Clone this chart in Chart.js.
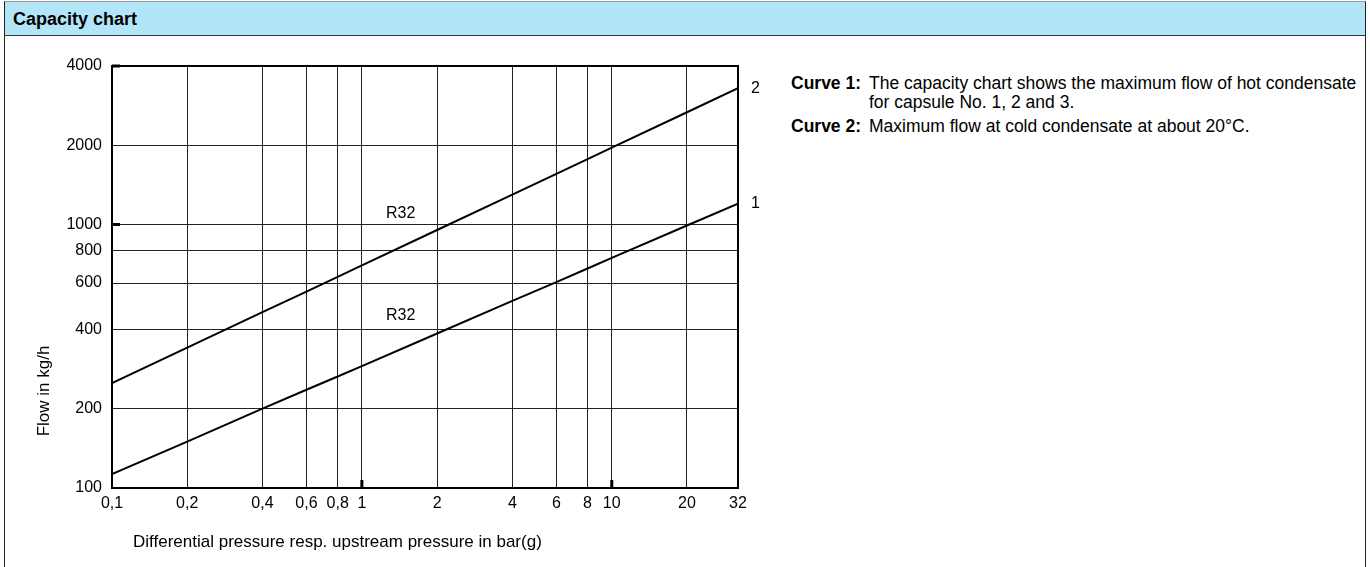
<!DOCTYPE html>
<html lang="en">
<head>
  <meta charset="UTF-8" />
  <title>Capacity chart</title>
  <style>
    html, body {
      margin: 0;
      padding: 0;
      background: #fff;
      overflow: hidden;
      font-family: "Liberation Sans", Arial, sans-serif;
    }
    #frame {
      position: absolute;
      left: 4px;
      top: 1px;
      width: 1360px;
      height: 565px;
      border-left: 1px solid #222;
      border-right: 1px solid #222;
      border-top: 1px solid #999;
    }
    #header {
      height: 33px;
      background: #b3e5f8;
      border-bottom: 1px solid #333;
    }
    #header h1 {
      margin: 0;
      padding: 2px 0 0 8px;
      font-size: 18px;
      font-weight: bold;
      line-height: 31px;
      color: #000;
    }
    #chartBox {
      position: absolute;
      left: 0;
      top: 36px;
      width: 780px;
      height: 531px;
    }
    #notes {
      position: absolute;
      left: 791px;
      top: 74px;
      font-size: 17.5px;
      line-height: 19px;
      color: #000;
    }
    #notes .row {
      display: flex;
      margin-bottom: 5px;
    }
    #notes b {
      flex: none;
      width: 78px;
    }
  </style>
</head>
<body>
  <div id="frame">
    <div id="header"><h1>Capacity chart</h1></div>
  </div>
  <div id="chartBox"><canvas id="capacityChart"></canvas></div>
  <div id="notes">
    <div class="row"><b>Curve 1:</b><span>The capacity chart shows the maximum flow of hot condensate<br>for capsule No. 1, 2 and 3.</span></div>
    <div class="row"><b>Curve 2:</b><span>Maximum flow at cold condensate at about 20°C.</span></div>
  </div>

  <script src="https://cdn.jsdelivr.net/npm/chart.js"></script>
  <script>
    // values
    const pressure = [0.1, 0.2, 0.4, 0.6, 0.8, 1, 2, 4, 6, 8, 10, 20, 32];
    const curve1 = [113, 150, 200, 236, 265, 290, 386, 513, 605, 681, 747, 992, 1201];
    const curve2 = [250, 341, 465, 557, 633, 700, 954, 1300, 1559, 1773, 1959, 2670, 3294];
    const xTicks = [0.1, 0.2, 0.4, 0.6, 0.8, 1, 2, 4, 6, 8, 10, 20, 32];
    const yTicks = [100, 200, 400, 600, 800, 1000, 2000, 4000];
    const xDecades = [1, 10];
    const yDecades = [1000, 4000];
    const curveNames = ['1', '2'];
    const curveTags = ['R32', 'R32'];
    const tagPressure = 1.43;

    const font = '"Liberation Sans", Arial, sans-serif';

    const toPoints = (ys) => pressure.map((x, i) => ({ x: x, y: ys[i] }));

    // frame, axis titles and curve labels
    const decorations = {
      id: 'decorations',
      afterDraw(chart) {
        const { ctx, chartArea: a, scales } = chart;
        const xs = scales.x, ys = scales.y;
        ctx.save();
        ctx.strokeStyle = '#000';
        ctx.lineWidth = 2;
        ctx.strokeRect(a.left, a.top, a.right - a.left, a.bottom - a.top);

        // short heavy marks inside the frame
        ctx.lineWidth = 3;
        ctx.beginPath();
        xDecades.forEach(v => {
          const px = xs.getPixelForValue(v);
          ctx.moveTo(px, a.bottom);
          ctx.lineTo(px, a.bottom - 8);
        });
        yDecades.forEach(v => {
          const py = ys.getPixelForValue(v);
          ctx.moveTo(a.left, py);
          ctx.lineTo(a.left + 8, py);
        });
        ctx.stroke();

        ctx.fillStyle = '#000';
        ctx.font = '17px ' + font;
        ctx.textBaseline = 'middle';

        // x title
        ctx.textAlign = 'left';
        ctx.fillText('Differential pressure resp. upstream pressure in bar(g)', a.left + 21, a.bottom + 54);

        // y title
        ctx.save();
        ctx.translate(a.left - 68, a.bottom - 97);
        ctx.rotate(-Math.PI / 2);
        ctx.textAlign = 'center';
        ctx.fillText('Flow in kg/h', 0, 0);
        ctx.restore();

        // curve numbers at the right end, R32 tags above each curve
        ctx.font = '16px ' + font;
        [curve1, curve2].forEach((ys2, i) => {
          const last = ys2.length - 1;
          ctx.textAlign = 'left';
          ctx.fillText(curveNames[i], xs.getPixelForValue(pressure[last]) + 13, ys.getPixelForValue(ys2[last]));
          const k = pressure.indexOf(1);
          const yv = ys2[k] * Math.pow(tagPressure / pressure[k], Math.log(ys2[k + 1] / ys2[k]) / Math.log(pressure[k + 1] / pressure[k]));
          ctx.textAlign = 'center';
          ctx.fillText(curveTags[i], xs.getPixelForValue(tagPressure), ys.getPixelForValue(yv) - 34);
        });
        ctx.restore();
      }
    };

    new Chart(document.getElementById('capacityChart'), {
      type: 'line',
      data: {
        datasets: [
          { label: 'Curve 1', data: toPoints(curve1) },
          { label: 'Curve 2', data: toPoints(curve2) }
        ]
      },
      options: {
        responsive: true,
        maintainAspectRatio: false,
        animation: false,
        layout: { padding: { left: 0, right: 42, top: 30, bottom: 0 } },
        elements: {
          line: { borderColor: '#000', borderWidth: 2, tension: 0 },
          point: { radius: 0 }
        },
        plugins: {
          legend: { display: false },
          tooltip: { enabled: false }
        },
        scales: {
          x: {
            type: 'logarithmic',
            min: 0.1,
            max: 32,
            afterBuildTicks: (axis) => { axis.ticks = xTicks.map(v => ({ value: v })); },
            afterFit: (axis) => { axis.height = 79; },
            ticks: {
              autoSkip: false,
              maxRotation: 0,
              padding: 6,
              color: '#000',
              font: { family: font, size: 16 },
              callback: (v) => String(v).replace('.', ',')
            },
            grid: { color: '#222', lineWidth: 1, drawTicks: false },
            border: { display: false }
          },
          y: {
            type: 'logarithmic',
            min: 100,
            max: 4000,
            afterBuildTicks: (axis) => { axis.ticks = yTicks.map(v => ({ value: v })); },
            afterFit: (axis) => { axis.width = 112; },
            ticks: {
              autoSkip: false,
              padding: 10,
              color: '#000',
              font: { family: font, size: 16 },
              callback: (v) => String(v)
            },
            grid: { color: '#222', lineWidth: 1, drawTicks: false },
            border: { display: false }
          }
        }
      },
      plugins: [decorations]
    });
  </script>
</body>
</html>
